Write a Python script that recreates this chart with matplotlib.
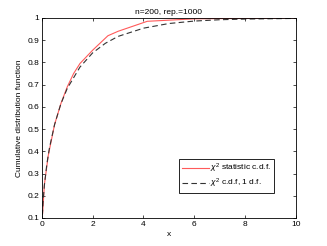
import matplotlib
matplotlib.use("Agg")
import matplotlib.pyplot as plt

plt.rcParams["font.family"] = ["Liberation Sans", "DejaVu Sans"]
plt.rcParams["mathtext.fontset"] = "custom"
plt.rcParams["mathtext.rm"] = "Liberation Sans"
plt.rcParams["mathtext.it"] = "Liberation Sans:italic"

stat_x = [0.03, 0.1, 0.25, 0.5, 0.75, 1.0, 1.25, 1.5, 2.0, 2.6, 3.0, 4.15, 6.0, 10.0]
stat_y = [0.12, 0.25, 0.38, 0.52, 0.615, 0.69, 0.75, 0.795, 0.855, 0.92, 0.94, 0.985, 0.996, 1.0]

# Theoretical chi^2 c.d.f., 1 d.f.
ref_x = [0.02, 0.05, 0.1, 0.2, 0.3, 0.5, 0.75, 1.0, 1.5, 2.0, 2.5, 3.0, 4.0, 5.0, 6.0, 7.0, 8.0, 10.0]
ref_y = [0.112, 0.177, 0.248, 0.345, 0.416, 0.52, 0.614, 0.683, 0.779, 0.843, 0.886, 0.917, 0.954, 0.975, 0.986, 0.992, 0.995, 0.998]

title = "n=200, rep.=1000"
xlabel = "x"
ylabel = "Cumulative distribution function"
labels = [r"$\chi^2$ statistic c.d.f.", r"$\chi^2$ c.d.f, 1 d.f."]
xticks = [0, 2, 4, 6, 8, 10]
yticks = [0.1, 0.2, 0.3, 0.4, 0.5, 0.6, 0.7, 0.8, 0.9, 1.0]
yticklabels = ["0.1", "0.2", "0.3", "0.4", "0.5", "0.6", "0.7", "0.8", "0.9", "1"]

fig = plt.figure(figsize=(3.27, 2.46), dpi=100)
ax = fig.add_axes([0.128, 0.114, 0.777, 0.813])
ax.plot(stat_x, stat_y, color="#ff5a5a", lw=0.8, label=labels[0])
ax.plot(ref_x, ref_y, color="#333333", lw=0.8, ls=(0, (5, 3)), label=labels[1])
ax.set_xlim(0, 10)
ax.set_ylim(0.1, 1.0)
ax.set_xticks(xticks)
ax.set_yticks(yticks)
ax.set_yticklabels(yticklabels)
ax.tick_params(direction="in", length=2.5, width=0.5, labelsize=6, top=True, right=True, pad=2)
for s in ax.spines.values():
    s.set_linewidth(0.6)
ax.set_title(title, fontsize=6, pad=3)
ax.set_xlabel(xlabel, fontsize=6, labelpad=2)
ax.set_ylabel(ylabel, fontsize=6, labelpad=3)
leg = ax.legend(loc="lower right", bbox_to_anchor=(0.913, 0.125), fontsize=6, fancybox=False,
                edgecolor="black", framealpha=1, handlelength=3.3, handletextpad=0.15,
                borderpad=0.3, labelspacing=0.25, borderaxespad=0)
leg.get_frame().set_linewidth(0.6)
fig.savefig("out.png", dpi=100)
